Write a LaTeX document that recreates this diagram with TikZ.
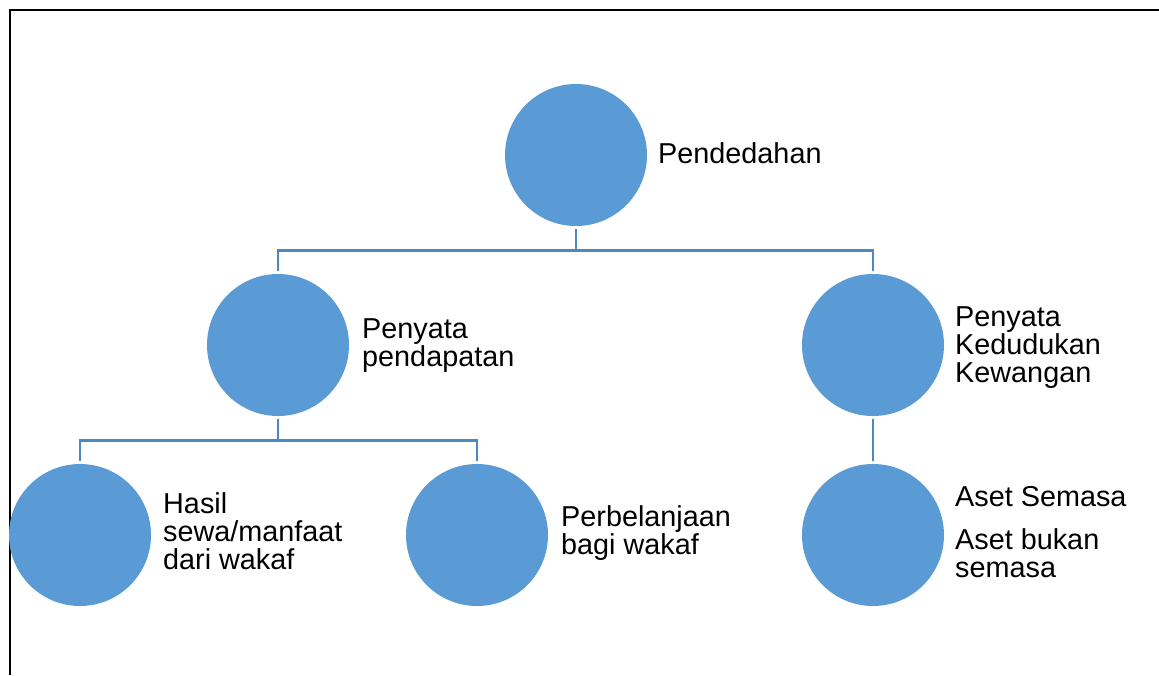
\documentclass[tikz,border=0pt]{standalone}
\usepackage{fontspec}
\setmainfont{Liberation Sans}
\begin{document}
\begin{tikzpicture}[x=1pt,y=-1pt,
  bubble/.style={circle,fill=bubbleblue,draw=none,minimum size=142pt,inner sep=0pt},
  conn/.style={draw=linkblue,line width=2.6pt,shorten <=3pt,shorten >=3pt},
  label/.style={anchor=base west,inner sep=0pt,align=left,
    font=\fontsize{28.8}{28}\selectfont},
  frame/.style={draw=black,line width=2pt}]
\definecolor{bubbleblue}{HTML}{5B9BD5}
\definecolor{linkblue}{HTML}{4E88C4}
\useasboundingbox (0,0) rectangle (1159,675);

% page border (top and left edges only)
\coordinate (fa) at (9.5,675);
\coordinate (fb) at (9.5,9.5);
\coordinate (fc) at (1159,9.5);
\draw[frame] (fa) -- (fb) -- (fc);

% circles
\node[bubble] (root) at (576,155) {};
\node[bubble] (inc)  at (278,345) {};
\node[bubble] (pos)  at (873,345) {};
\node[bubble] (rev)  at (80,535)  {};
\node[bubble] (exp)  at (477,535) {};
\node[bubble] (ast)  at (873,535) {};

% connectors
\draw[conn] (root.south) -- ++(0,24) -| (inc.north);
\draw[conn] (root.south) -- ++(0,24) -| (pos.north);
\draw[conn] (inc.south) -- ++(0,24) -| (rev.north);
\draw[conn] (inc.south) -- ++(0,24) -| (exp.north);
\draw[conn] (pos.south) -- (ast.north);

% labels (anchored at the baseline of their last line)
\node[label] (troot) at (658,163) {Pendedahan};
\node[label] (tinc)  at (362,366) {Penyata\\pendapatan};
\node[label] (tpos)  at (955,382) {Penyata\\Kedudukan\\Kewangan};
\node[label] (trev)  at (163,569) {Hasil\\sewa/manfaat\\dari wakaf};
\node[label] (texp)  at (561,554) {Perbelanjaan\\bagi wakaf};
\node[label] (tast)  at (955,577) {Aset Semasa\\[15pt]Aset bukan\\semasa};
\end{tikzpicture}
\end{document}
